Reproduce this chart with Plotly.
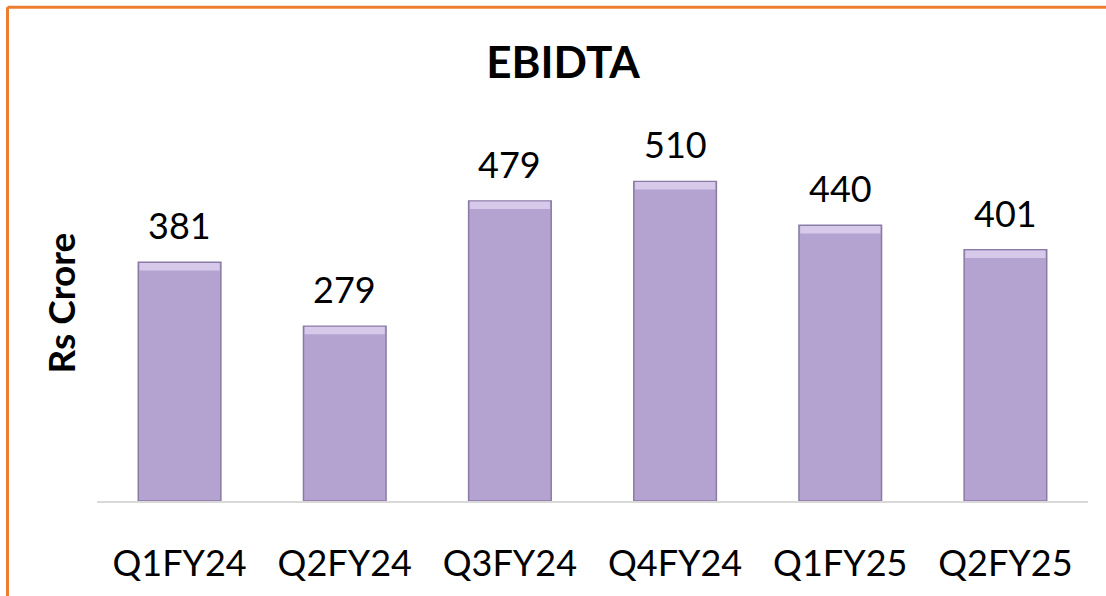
import plotly.graph_objects as go

categories = ["Q1FY24", "Q2FY24", "Q3FY24", "Q4FY24", "Q1FY25", "Q2FY25"]
ebitda = [381, 279, 479, 510, 440, 401]
value_labels = [str(v) for v in ebitda]

FONT = "Lato"
BEVEL = 12  # height (in data units) of the light top bevel strip

fig = go.Figure()
fig.add_trace(go.Bar(
    x=categories, y=ebitda, width=0.5,
    marker=dict(color="#b4a3d1", line=dict(color="#8a7ba6", width=1.5)),
    hoverinfo="x+y",
))
fig.add_trace(go.Bar(
    x=categories, y=[BEVEL] * len(ebitda), base=[v - BEVEL - 1 for v in ebitda], width=0.485,
    marker=dict(color="#d6c9ea", line=dict(width=0)),
    hoverinfo="skip",
))

annotations = []
for c, v, t in zip(categories, ebitda, value_labels):
    annotations.append(dict(x=c, y=v, xref="x", yref="y", text=t, showarrow=False,
                            yanchor="bottom", yshift=13,
                            font=dict(family=FONT, size=36, color="#000000")))

annotations.append(dict(x=-0.0373, y=0.4926, xref="paper", yref="paper", text="<b>Rs Crore</b>",
                        textangle=-90, showarrow=False, xanchor="center", yanchor="middle",
                        font=dict(family=FONT, size=37, color="#000000")))

L, R, T, B = 97, 18, 100, 92
W, H = 1106, 596
pw, ph = W - L - R, H - T - B

def px_to_paper_x(px):
    return (px - L) / pw

def px_to_paper_y(py):
    return (H - B - py) / ph

shapes = [
    dict(type="line", xref="paper", yref="paper",
         x0=px_to_paper_x(7.5), x1=px_to_paper_x(1110), y0=px_to_paper_y(6.5), y1=px_to_paper_y(6.5),
         line=dict(color="#ed7d31", width=3)),
    dict(type="line", xref="paper", yref="paper",
         x0=px_to_paper_x(7.5), x1=px_to_paper_x(7.5), y0=px_to_paper_y(6.5), y1=px_to_paper_y(600),
         line=dict(color="#ed7d31", width=3)),
]

fig.update_layout(
    width=W, height=H,
    margin=dict(l=L, r=R, t=T, b=B),
    paper_bgcolor="white", plot_bgcolor="white",
    showlegend=False,
    barmode="overlay",
    title=dict(text="<b>EBIDTA</b>", x=563 / W, y=1 - 63 / H, xanchor="center", yanchor="middle",
               font=dict(family=FONT, size=44, color="#000000")),
    xaxis=dict(showline=True, linecolor="#d9d9d9", linewidth=2, ticks="", showgrid=False,
               tickfont=dict(family=FONT, size=36, color="#000000"), ticklabelstandoff=30),
    yaxis=dict(range=[0, 640], showticklabels=False, showgrid=False, zeroline=False, showline=False),
    annotations=annotations,
    shapes=shapes,
)

fig.write_html("out.html", config={"displayModeBar": False},
               post_script="document.body.style.margin='0';document.body.style.overflow='hidden';")
